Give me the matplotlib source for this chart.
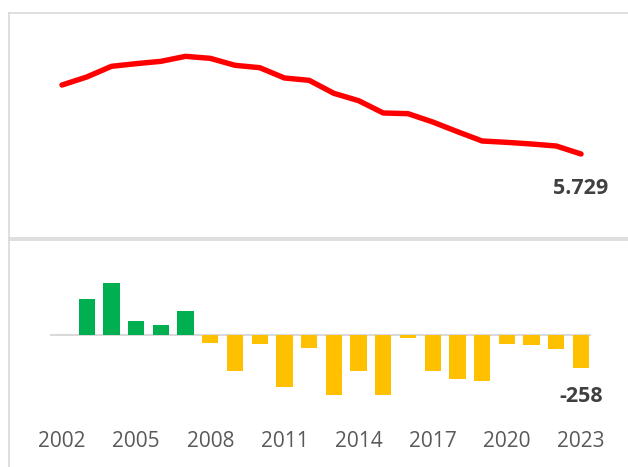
import matplotlib.pyplot as plt
import numpy as np

plt.rcParams['font.family'] = ['Open Sans', 'DejaVu Sans']

years = list(range(2002, 2024))
total = [8337, 8640, 9043, 9144, 9232, 9421, 9345, 9081, 8992, 8602, 8514,
         8022, 7745, 7279, 7254, 6939, 6573, 6220, 6170, 6107, 6031, 5729]
change = [0, 286, 407, 114, 78, 192, -61, -283, -68, -410, -106,
          -471, -288, -478, -23, -288, -349, -364, -68, -76, -114, -258]
tick_years = [2002, 2005, 2008, 2011, 2014, 2017, 2020, 2023]

border = '#d9d9d9'
txt = '#595959'

fig = plt.figure(figsize=(6.28, 4.67), dpi=100)
ax1 = fig.add_axes([9/628, 1-238/467, 1-9/628, 225/467])
ax2 = fig.add_axes([9/628, 0, 1-9/628, 227/467])

xl = (1999.855, 2024.90)

# top: line
ax1.plot(years, total, color='#ff0000', lw=3.9, solid_capstyle='round')
ax1.set_xlim(xl)
ax1.set_ylim(2554, 11059)
ax1.set_xticks([])
ax1.set_yticks([])
for s in ['left', 'top', 'bottom']:
    ax1.spines[s].set_color(border)
    ax1.spines[s].set_linewidth(1.2)
ax1.spines['right'].set_visible(False)
ax1.annotate(f"{total[-1]:,}".replace(',', '.'), xy=(years[-1], total[-1]),
             xytext=(0, -25), textcoords='offset points', ha='center', va='center',
             fontsize=15.5, fontweight='bold', color='#404040')

# bottom: bars
cols = ['#00b050' if v >= 0 else '#ffc000' for v in change]
ax2.bar(years, change, width=0.66, color=cols, zorder=2)
ax2.hlines(0, years[0] - 0.49, years[-1] + 0.4, color=border, lw=1.5, zorder=1)
ax2.set_xlim(xl)
ax2.set_ylim(-1043, 750)
ax2.set_yticks([])
ax2.set_xticks(tick_years)
ax2.set_xticklabels([str(y) for y in tick_years])
ax2.tick_params(axis='x', length=0, pad=-26, labelsize=15, labelcolor=txt)
for s in ['left', 'top']:
    ax2.spines[s].set_color(border)
    ax2.spines[s].set_linewidth(1.2)
ax2.spines['right'].set_visible(False)
ax2.spines['bottom'].set_visible(False)
ax2.annotate(str(change[-1]), xy=(years[-1], change[-1]),
             xytext=(0, -21), textcoords='offset points', ha='center', va='center',
             fontsize=15.5, fontweight='bold', color='#404040')

fig.savefig('out.png', dpi=100)
